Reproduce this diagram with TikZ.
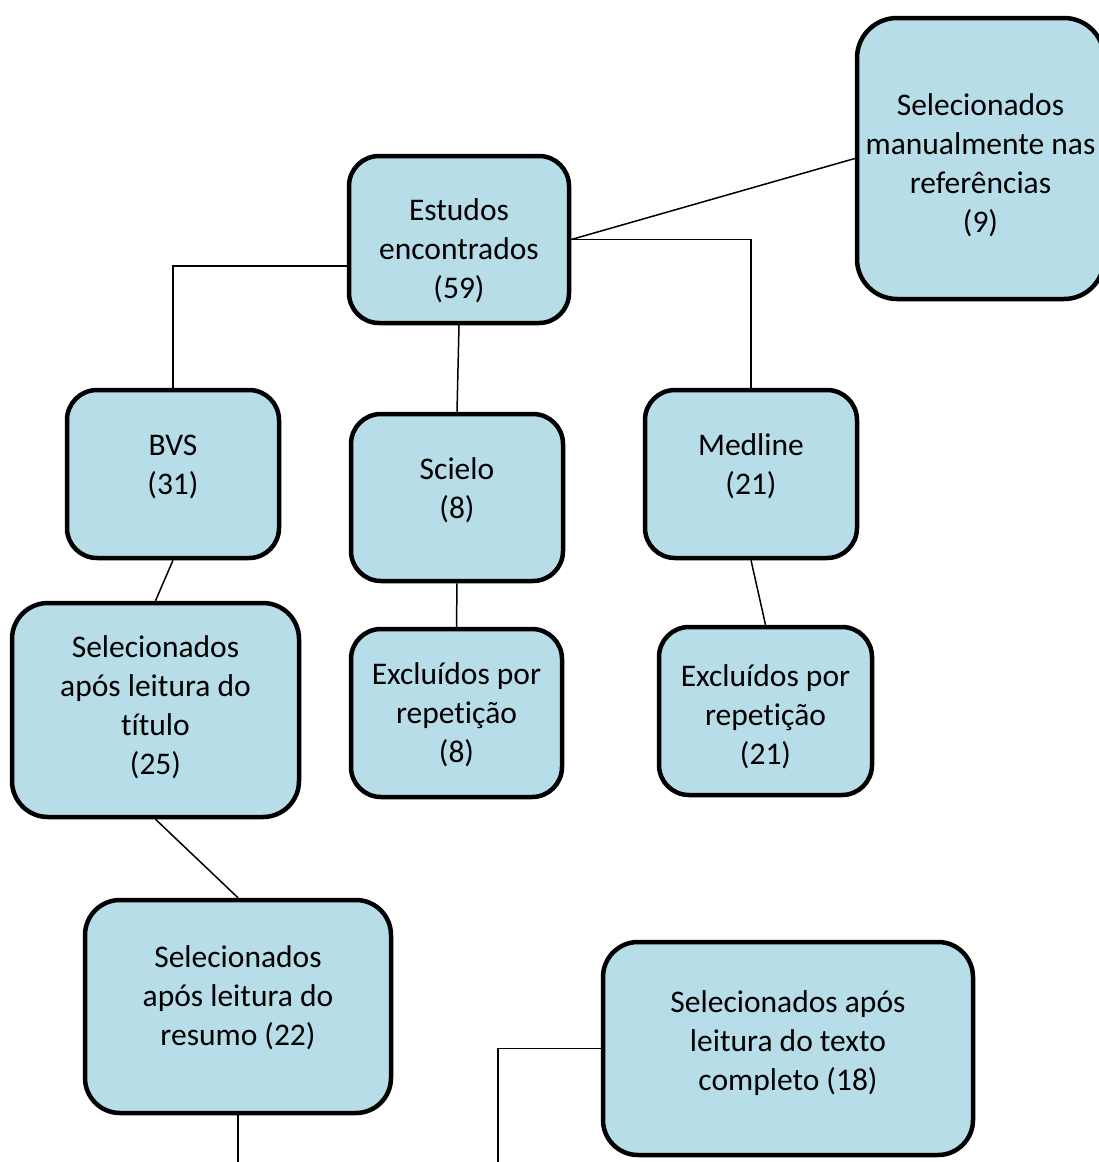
\documentclass[tikz,border=0pt]{standalone}
\usepackage{fontspec}
\setmainfont{Carlito}[Ligatures=CommonOff]

\definecolor{boxblue}{HTML}{B7DDE8}

\begin{document}
\begin{tikzpicture}[
		x=1pt, y=-1pt,
		line/.style={line width=1.5pt},
		box/.style={draw, line width=4.5pt, fill=boxblue, rounded corners=30pt, align=center,
			inner sep=0pt, font=\fontsize{31.5}{39}\selectfont, text depth=0pt},
		boxsize/.style 2 args={minimum width=#1, minimum height=#2},
		lift/.style={text height=#1},
	]
	\useasboundingbox (0,0) rectangle (1099,1162);

	\node[box, boxsize={220pt}{167pt}, lift=117pt] (estudos) at (459,239.5) {Estudos\\encontrados\\(59)};
	\node[box, boxsize={247pt}{281pt}, lift=147pt, rounded corners=40pt] (manual) at (980.5,158.5) {Selecionados\\manualmente nas\\referências\\(9)};
	\node[box, boxsize={212pt}{168pt}, lift=40pt] (bvs) at (173,474) {BVS\\(31)};
	\node[box, boxsize={212pt}{167pt}, lift=41pt] (scielo) at (457,497.5) {Scielo\\(8)};
	\node[box, boxsize={212pt}{168pt}, lift=40pt] (medline) at (751,474) {Medline\\(21)};
	\node[box, boxsize={287pt}{214pt}, lift=128pt, rounded corners=36pt] (titulo) at (155.5,710) {Selecionados\\após leitura do\\título\\(25)};
	\node[box, boxsize={211pt}{168pt}, lift=98pt] (excluidos8) at (456.5,713) {Excluídos por\\repetição\\(8)};
	\node[box, boxsize={213pt}{168pt}, lift=106pt] (excluidos21) at (765.5,711) {Excluídos por\\repetição\\(21)};
	\node[box, boxsize={306pt}{213pt}, lift=77pt, rounded corners=35pt] (resumo) at (238,1006.5) {Selecionados\\após leitura do\\resumo (22)};
	\node[box, boxsize={370pt}{213pt}, lift=83pt, rounded corners=35pt] (completo) at (788,1048.5) {Selecionados após\\leitura do texto\\completo (18)};
	\coordinate (resumoend) at (238,1162);
	\coordinate (completoend) at (498,1162);

	% from the total
	\draw[line] ([yshift=-26.5pt]estudos.west) -| (bvs.north);
	\draw[line] (estudos.east) -| (medline.north);
	\draw[line] (estudos.east) -- (manual.west);
	\draw[line] (estudos.south) -- (scielo.north);

	% per database
	\draw[line] (bvs.south) -- (titulo.north);
	\draw[line] (scielo.south) -- (excluidos8.north);
	\draw[line] (medline.south) -- (excluidos21.north);

	\draw[line] (titulo.south) -- (resumo.north);
	\draw[line] (resumo.south) -- (resumoend);
	\draw[line] (completo.west) -| (completoend);
\end{tikzpicture}
\end{document}
